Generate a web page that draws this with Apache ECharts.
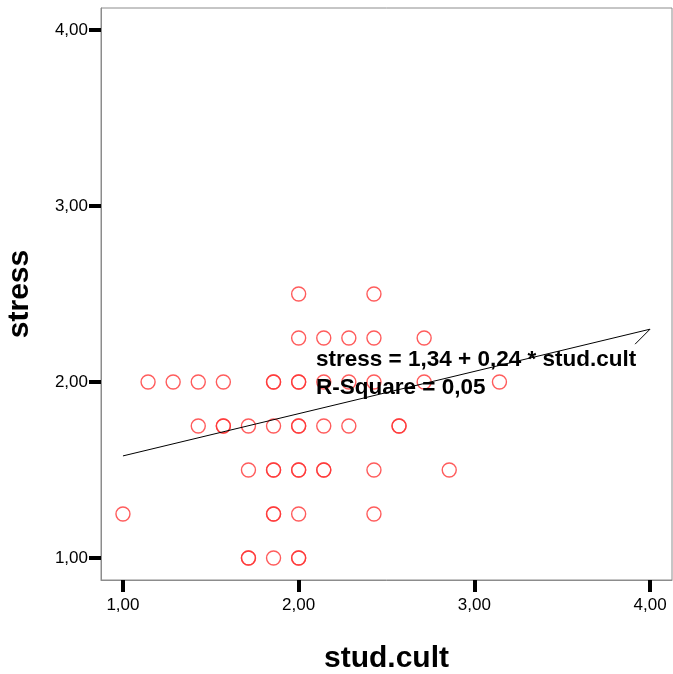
<!DOCTYPE html>
<html>
<head>
<meta charset="utf-8">
<script src="https://cdn.jsdelivr.net/npm/echarts@6/dist/echarts.min.js"></script>
<style>html,body{margin:0;padding:0;background:#fff}#c{width:673px;height:674px}</style>
</head>
<body>
<div id="c"></div>
<script>
// stud.cult values are multiples of 1/7, stress multiples of 0.25
const studCult = [
  2.0, 2.4286,
  2.0, 2.1429, 2.2857, 2.4286, 2.7143,
  1.1429, 1.2857, 1.4286, 1.5714, 1.8571, 1.8571, 2.0, 2.0, 2.1429, 2.2857, 2.4286, 2.7143, 3.1429,
  1.4286, 1.5714, 1.5714, 1.7143, 1.8571, 2.0, 2.0, 2.1429, 2.2857, 2.5714, 2.5714,
  1.7143, 1.8571, 1.8571, 2.0, 2.0, 2.1429, 2.1429, 2.4286, 2.8571,
  1.0, 1.8571, 1.8571, 2.0, 2.4286,
  1.7143, 1.7143, 1.8571, 2.0, 2.0
];
const stress = [
  2.5, 2.5,
  2.25, 2.25, 2.25, 2.25, 2.25,
  2.0, 2.0, 2.0, 2.0, 2.0, 2.0, 2.0, 2.0, 2.0, 2.0, 2.0, 2.0, 2.0,
  1.75, 1.75, 1.75, 1.75, 1.75, 1.75, 1.75, 1.75, 1.75, 1.75, 1.75,
  1.5, 1.5, 1.5, 1.5, 1.5, 1.5, 1.5, 1.5, 1.5,
  1.25, 1.25, 1.25, 1.25, 1.25,
  1.0, 1.0, 1.0, 1.0, 1.0
];
const intercept = 1.34;
const slope = 0.24;
const fitX = [1.0, 4.0, 3.915];
const tickValues = [1, 2, 3, 4];
const equationLines = ['stress = 1,34 + 0,24 * stud.cult', 'R-Square = 0,05'];

const fmt = v => v.toFixed(2).replace('.', ',');
const points = studCult.map((x, i) => [x, stress[i]]);
const fitLine = fitX.map((x, i) => i < 2 ? [x, intercept + slope * x] : [x, intercept + slope * 4.0 - 0.085]);

const chart = echarts.init(document.getElementById('c'), null, {renderer: 'canvas'});
const axisCommon = {
  type: 'value', min: 0.875, max: 4.125,
  axisLine: {show: true, lineStyle: {color: '#8c8c8c', width: 1}},
  axisTick: {show: true, customValues: tickValues, length: 12, lineStyle: {color: '#000', width: 4}},
  axisLabel: {customValues: tickValues, formatter: fmt, color: '#000', fontFamily: 'Liberation Sans, Arial, sans-serif', fontSize: 17},
  splitLine: {show: false},
  nameLocation: 'middle',
  nameTextStyle: {color: '#000', fontFamily: 'Liberation Sans, Arial, sans-serif', fontWeight: 'bold', fontSize: 30}
};
chart.setOption({
  animation: false,
  backgroundColor: '#fff',
  grid: {left: 101, top: 8, width: 571, height: 572, show: true, borderColor: '#8c8c8c', borderWidth: 1,
         backgroundColor: 'transparent', outerBoundsMode: 'none', containLabel: false},
  xAxis: Object.assign({}, axisCommon, {name: 'stud.cult', nameGap: 64, axisLabel: Object.assign({}, axisCommon.axisLabel, {margin: 17})}),
  yAxis: Object.assign({}, axisCommon, {name: 'stress', nameGap: 66, nameRotate: 90, axisLabel: Object.assign({}, axisCommon.axisLabel, {margin: 13})}),
  series: [
    {type: 'scatter', data: points, symbol: 'circle', symbolSize: 14,
     itemStyle: {color: 'transparent', borderColor: '#ff3333', borderWidth: 1.4}, z: 2},
    {type: 'line', data: fitLine, showSymbol: false, symbol: 'none',
     lineStyle: {color: '#000', width: 1}, z: 3}
  ],
  graphic: [
    {type: 'text', left: 316, top: 348, z: 10,
     style: {text: equationLines[0], font: 'bold 22.5px "Liberation Sans", Arial, sans-serif', fill: '#000'}},
    {type: 'text', left: 316, top: 376, z: 10,
     style: {text: equationLines[1], font: 'bold 22.5px "Liberation Sans", Arial, sans-serif', fill: '#000'}}
  ]
});
</script>
</body>
</html>
